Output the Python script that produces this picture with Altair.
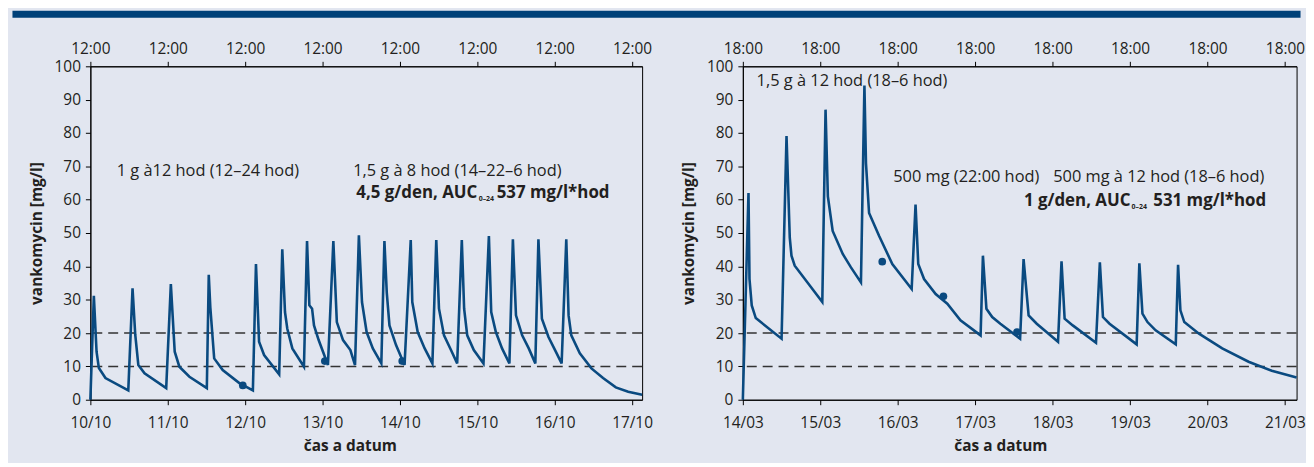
import altair as alt
import pandas as pd

# ---------------- data ----------------
left_dates = ["10/10", "11/10", "12/10", "13/10", "14/10", "15/10", "16/10", "17/10"]
left_time_label = "12:00"
right_dates = ["14/03", "15/03", "16/03", "17/03", "18/03", "19/03", "20/03", "21/03"]
right_time_label = "18:00"

# time in days from the first date tick, concentration in mg/l
left_t = [0.00, 0.045, 0.08, 0.11, 0.195, 0.49, 0.545, 0.58, 0.62, 0.70, 0.98,
          1.04, 1.09, 1.15, 1.28, 1.505, 1.53, 1.55, 1.60, 1.71, 1.925, 2.10,
          2.14, 2.18, 2.245, 2.44, 2.48, 2.515, 2.545, 2.61, 2.76,
          2.80, 2.83, 2.865, 2.89, 2.95, 3.07, 3.14, 3.185, 3.265, 3.36, 3.42,
          3.47, 3.51, 3.57, 3.65, 3.76, 3.80, 3.83, 3.865, 3.95, 4.06,
          4.14, 4.16, 4.23, 4.32, 4.42, 4.47, 4.505, 4.57, 4.66, 4.74,
          4.80, 4.83, 4.87, 4.955, 5.08, 5.15, 5.18, 5.24, 5.32, 5.415,
          5.46, 5.50, 5.58, 5.665, 5.75, 5.79, 5.835, 5.92, 6.005, 6.09,
          6.15, 6.18, 6.215, 6.325, 6.475, 6.625, 6.79, 6.95, 7.13]
left_c = [0.0, 31.2, 14.4, 9.5, 6.5, 2.8, 33.4, 19.5, 10.4, 7.9, 3.5,
          34.7, 14.4, 9.9, 6.9, 3.5, 37.5, 27.7, 12.4, 8.9, 5.0, 2.8,
          40.7, 17.4, 13.4, 7.6, 45.1, 26.3, 21.3, 15.4, 9.9,
          47.6, 28.3, 27.3, 22.3, 17.9, 10.4, 47.6, 23.3, 17.9, 14.9, 10.4,
          49.3, 29.3, 20.3, 15.4, 10.9, 47.6, 32.2, 22.3, 16.4, 10.4,
          47.9, 29.3, 20.3, 15.4, 10.9, 47.9, 27.3, 19.3, 14.9, 10.9,
          47.9, 27.3, 19.3, 14.9, 10.9, 49.1, 26.3, 20.3, 15.4, 10.9,
          48.1, 25.3, 19.3, 15.4, 10.9, 48.1, 24.3, 18.8, 14.9, 10.9,
          48.1, 25.3, 19.3, 13.9, 9.4, 6.5, 3.7, 2.4, 1.5]
left_pts_t = [1.97, 3.03, 4.03]
left_pts_c = [4.3, 11.6, 11.6]

right_t = [0.00, 0.073, 0.086, 0.115, 0.167, 0.50, 0.564, 0.606, 0.628, 0.67, 1.026,
           1.068, 1.098, 1.16, 1.29, 1.396, 1.525, 1.57, 1.59, 1.63, 1.76, 1.93, 2.18,
           2.23, 2.265, 2.34, 2.49, 2.64, 2.81, 3.07, 3.10, 3.145, 3.22, 3.325, 3.58,
           3.625, 3.69, 3.795, 4.07, 4.115, 4.155, 4.26, 4.56, 4.61, 4.65, 4.735, 5.085,
           5.12, 5.16, 5.225, 5.33, 5.59, 5.62, 5.65, 5.70, 5.89, 6.19, 6.53, 6.83, 7.15]
right_c = [0.0, 62.0, 36.2, 28.3, 24.5, 18.3, 79.1, 48.6, 43.2, 40.2, 29.3,
           87.0, 61.0, 50.6, 43.7, 39.7, 35.2, 94.2, 70.9, 56.0, 49.1, 40.7, 33.2,
           58.5, 40.7, 36.2, 31.7, 28.8, 23.8, 19.3, 43.2, 27.3, 24.8, 22.8, 18.3,
           42.2, 25.3, 22.8, 17.4, 41.5, 24.3, 22.3, 17.1, 41.2, 24.8, 22.8, 16.6,
           40.9, 25.8, 23.3, 20.8, 16.6, 40.5, 26.8, 23.3, 19.8, 15.4, 11.4, 8.7, 6.7]
right_pts_t = [1.80, 2.59, 3.54]
right_pts_c = [41.4, 31.0, 20.3]

ref_levels = [10, 20]

left_notes = ["1 g à12 hod (12–24 hod)", "1,5 g à 8 hod (14–22–6 hod)"]
left_notes_t = [0.341, 3.396]
left_notes_c = [68.5, 68.5]
left_bold = ["4,5 g/den, AUC", "0–24", "537 mg/l*hod"]
left_bold_t = [5.0, 5.018, 5.25]
left_bold_c = 62.0

right_notes = ["1,5 g à 12 hod (18–6 hod)", "500 mg (22:00 hod)", "500 mg à 12 hod (18–6 hod)"]
right_notes_t = [0.178, 1.942, 4.008]
right_notes_c = [95.5, 66.7, 66.7]
right_bold = ["1 g/den, AUC", "0–24", "531 mg/l*hod"]
right_bold_t = [5.005, 5.02, 5.30]
right_bold_c = 59.5

# ---------------- style ----------------
FONT = "Open Sans"
BG = "#E2E6F0"
BAND = "#004179"
LINE = "#0A4A80"
TXT = "#231F20"
FS_AX = 15.5
FS_NOTE = 16.5
FS_BOLD = 17


def panel(t, c, pts_t, pts_c, dates, time_label, xmax, width,
          notes, notes_t, notes_c, bold, bold_t, bold_c, title_x, band=None):
    curve = pd.DataFrame({"t": t, "c": c})
    pts = pd.DataFrame({"t": pts_t, "c": pts_c})
    refs = pd.DataFrame({"c": ref_levels})
    nd = pd.DataFrame({"t": notes_t, "c": notes_c, "s": notes})
    bd = pd.DataFrame({"t": bold_t, "c": [bold_c] * 3, "s": bold})

    xs = alt.Scale(domain=[0, xmax], nice=False, zero=False)
    ys = alt.Scale(domain=[0, 100], nice=False)
    date_expr = "[" + ",".join("'%s'" % d for d in dates) + "][datum.value]"

    bottom_axis = alt.Axis(values=list(range(len(dates))), labelExpr=date_expr,
                           title="čas a datum", orient="bottom", labelPadding=11,
                           titlePadding=8, titleX=title_x, labelFlush=False, grid=False)
    top_axis = alt.Axis(values=list(range(len(dates))), labelExpr="'%s'" % time_label,
                        title=None, orient="top", labelPadding=5,
                        labelFlush=False, grid=False)
    y_axis = alt.Axis(values=list(range(0, 101, 10)), title="vankomycin [mg/l]",
                      labelPadding=5, titlePadding=10, grid=False)

    layers = []
    if band is not None:
        layers.append(alt.Chart(pd.DataFrame({"k": [0]})).mark_rule(
            color=BAND, strokeWidth=7).encode(
            x=alt.value(band[0]), x2=alt.value(band[1]), y=alt.value(-52.5)))

    rules = alt.Chart(refs).mark_rule(
        color="#333333", strokeWidth=1.5, strokeDash=[10, 6]).encode(
        y=alt.Y("c:Q", scale=ys, axis=y_axis))

    line = alt.Chart(curve).mark_line(color=LINE, strokeWidth=2.6).encode(
        x=alt.X("t:Q", scale=xs, axis=bottom_axis),
        y=alt.Y("c:Q", scale=ys, axis=y_axis))

    points = alt.Chart(pts).mark_circle(color=LINE, size=60, opacity=1).encode(
        x=alt.X("t:Q", scale=xs, axis=top_axis),
        y=alt.Y("c:Q", scale=ys, axis=y_axis))

    notes_l = alt.Chart(nd).mark_text(
        align="left", baseline="middle", font=FONT, fontSize=FS_NOTE, color=TXT).encode(
        x=alt.X("t:Q", scale=xs, axis=None), y=alt.Y("c:Q", scale=ys, axis=y_axis),
        text="s:N")

    b0 = alt.Chart(bd.iloc[[0]]).mark_text(
        align="right", baseline="middle", font=FONT, fontSize=FS_BOLD, fontWeight="bold",
        color=TXT).encode(
        x=alt.X("t:Q", scale=xs, axis=None), y=alt.Y("c:Q", scale=ys, axis=y_axis),
        text="s:N")
    b1 = alt.Chart(bd.iloc[[1]]).mark_text(
        align="left", baseline="middle", font=FONT, fontSize=7, fontWeight="bold",
        color=TXT, dy=6).encode(
        x=alt.X("t:Q", scale=xs, axis=None), y=alt.Y("c:Q", scale=ys, axis=y_axis),
        text="s:N")
    b2 = alt.Chart(bd.iloc[[2]]).mark_text(
        align="left", baseline="middle", font=FONT, fontSize=FS_BOLD, fontWeight="bold",
        color=TXT).encode(
        x=alt.X("t:Q", scale=xs, axis=None), y=alt.Y("c:Q", scale=ys, axis=y_axis),
        text="s:N")

    layers += [rules, line, points, notes_l, b0, b1, b2]
    return alt.layer(*layers).resolve_axis(x="independent").properties(
        width=width, height=336)


left = panel(left_t, left_c, left_pts_t, left_pts_c, left_dates, left_time_label,
             7.13, 556, left_notes, left_notes_t, left_notes_c,
             left_bold, left_bold_t, left_bold_c, 261.5, band=(-78.5, 1219.5))
right = panel(right_t, right_c, right_pts_t, right_pts_c, right_dates, right_time_label,
              7.15, 558, right_notes, right_notes_t, right_notes_c,
              right_bold, right_bold_t, right_bold_c, 259.5)

chart = alt.hconcat(left, right, spacing=101.5, bounds="flush").configure(
    background=BG,
    padding={"left": 0, "top": 0, "right": 0, "bottom": 6},
    font=FONT,
).configure_view(stroke="black", strokeWidth=1).configure_axis(
    domainColor="black", domainWidth=1, tickColor="black", tickWidth=1, tickSize=5,
    labelFont=FONT, labelFontSize=FS_AX, labelColor=TXT,
    titleFont=FONT, titleFontSize=FS_AX, titleFontWeight="bold", titleColor=TXT,
)

chart.save("out.html", embed_options={"renderer": "svg", "actions": False})
